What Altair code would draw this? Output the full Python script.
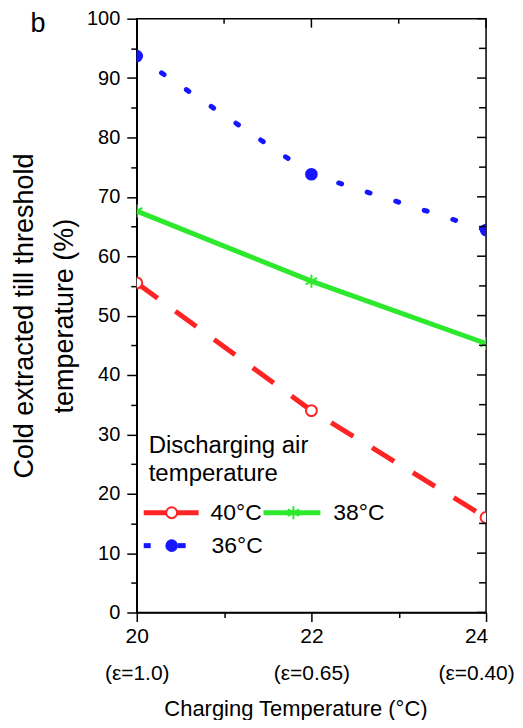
import altair as alt
import pandas as pd

# ---- data ----
charging_temp = [20, 22, 24]
eps_labels = ["(ε=1.0)", "(ε=0.65)", "(ε=0.40)"]
series_names = ["40°C", "38°C", "36°C"]
values_40 = [55.5, 34.0, 16.0]
values_38 = [67.6, 55.8, 45.3]
values_36 = [93.7, 73.8, 64.4]
x_major = [20, 22, 24]
x_minor = [21, 23]
y_major = list(range(0, 101, 10))
y_minor = list(range(5, 100, 10))

RED, GREEN, BLUE = "#ff2424", "#2ee82e", "#1515ff"
FONT = "Liberation Sans"
W, H = 350, 595
ASTER = "M0,-1L0,1M-0.87,-0.5L0.87,0.5M-0.87,0.5L0.87,-0.5"

rows = []
for name, vals in zip(series_names, [values_40, values_38, values_36]):
    for xv, yv in zip(charging_temp, vals):
        rows.append({"series": name, "x": xv, "y": yv})
df = pd.DataFrame(rows)

xscale = alt.Scale(domain=[20, 24], nice=False)
yscale = alt.Scale(domain=[0, 100], nice=False)

label_expr = " : ".join(
    f"datum.value == {v} ? ['{v}', '{e}']" for v, e in zip(charging_temp, eps_labels)
) + " : ''"

x_axis = alt.Axis(
    values=x_major + x_minor, labelExpr=label_expr, title="Charging Temperature (°C)",
    tickSize={"condition": {"test": "datum.value % 2 === 0", "value": 9}, "value": 5},
    labelOffset={"condition": {"test": "datum.value === 24", "value": -10}, "value": 0},
    labelFlush=False, labelOverlap=False, labelFontSize=21, labelLineHeight=37,
    labelPadding=4, titleFontSize=22, titlePadding=15, titleX=159, grid=False,
)
y_axis = alt.Axis(
    values=y_major + y_minor, labelExpr="datum.value % 10 === 0 ? datum.label : ''",
    tickSize={"condition": {"test": "datum.value % 10 === 0", "value": 10}, "value": 6},
    title=["Cold extracted till threshold", "temperature (%)"], titleFontSize=27,
    titleLineHeight=40, titlePadding=8, labelFontSize=20, labelPadding=7,
    labelOverlap=False, grid=False,
)

X = alt.X("x:Q", scale=xscale, axis=x_axis)
Y = alt.Y("y:Q", scale=yscale, axis=y_axis)
base = alt.Chart(df).encode(x=X, y=Y)

def sel(name):
    return base.transform_filter(alt.datum.series == name)

red_line = sel(series_names[0]).mark_line(color=RED, strokeWidth=5, strokeDash=[26, 22], clip=True)
green_line = sel(series_names[1]).mark_line(color=GREEN, strokeWidth=5, clip=True)
blue_line = sel(series_names[2]).mark_line(color=BLUE, strokeWidth=5, strokeDash=[3, 27],
                                           strokeCap="round", clip=True)

red_pts = sel(series_names[0]).mark_point(shape="circle", filled=True, fill="white", stroke=RED,
                                          strokeWidth=2, size=120, opacity=1, clip=True)
green_pts = sel(series_names[1]).mark_point(shape=ASTER, filled=False, stroke=GREEN,
                                            strokeWidth=2, size=170, opacity=1, clip=True)
blue_pts = sel(series_names[2]).mark_point(shape="circle", filled=True, color=BLUE,
                                           size=160, opacity=1, clip=True)

# inward ticks on top and right frame
top_major = alt.Chart(pd.DataFrame({"x": x_major})).mark_rule(color="black", strokeWidth=1.5).encode(
    x=X, y=alt.value(0), y2=alt.value(9))
top_minor = alt.Chart(pd.DataFrame({"x": x_minor})).mark_rule(color="black", strokeWidth=1.5).encode(
    x=X, y=alt.value(0), y2=alt.value(5))
right_major = alt.Chart(pd.DataFrame({"y": y_major})).mark_rule(color="black", strokeWidth=1.5).encode(
    y=Y, x=alt.value(W), x2=alt.value(W - 9))
right_minor = alt.Chart(pd.DataFrame({"y": y_minor})).mark_rule(color="black", strokeWidth=1.5).encode(
    y=Y, x=alt.value(W), x2=alt.value(W - 7))

one = pd.DataFrame({"t": [""]})

def text(t, x, y, size=23, align="left"):
    return alt.Chart(pd.DataFrame({"t": [t]})).mark_text(
        align=align, baseline="middle", font=FONT, fontSize=size, color="black"
    ).encode(x=alt.value(x), y=alt.value(y), text="t:N")

def seg(x1, x2, y, color, width):
    return alt.Chart(one).mark_rule(color=color, strokeWidth=width).encode(
        x=alt.value(x1), x2=alt.value(x2), y=alt.value(y))

def sym(x, y, **kw):
    return alt.Chart(one).mark_point(opacity=1, **kw).encode(x=alt.value(x), y=alt.value(y))

legend = [
    text("Discharging air", 12, 428, size=24),
    text("temperature", 12, 456, size=24),
    seg(7, 62, 495, RED, 5),
    sym(35, 495, shape="circle", filled=True, fill="white", stroke=RED, strokeWidth=2, size=120),
    text(series_names[0], 74, 495),
    seg(127, 184, 495, GREEN, 5),
    sym(157, 495, shape=ASTER, filled=False, stroke=GREEN, strokeWidth=2, size=170),
    text(series_names[1], 197, 495),
    seg(7, 14, 528, BLUE, 5),
    seg(41, 49, 528, BLUE, 5),
    sym(35, 528, shape="circle", filled=True, color=BLUE, size=160),
    text(series_names[2], 75, 528),
    text("b", -99, 5, size=27, align="center"),
]

chart = alt.layer(
    red_line, green_line, blue_line, red_pts, green_pts, blue_pts,
    top_major, top_minor, right_major, right_minor, *legend,
).properties(
    width=W, height=H, padding={"left": 2, "top": 0, "right": 0, "bottom": 0}
).configure_view(
    stroke="black", strokeWidth=1.5
).configure_axis(
    labelFont=FONT, titleFont=FONT, labelColor="black", titleColor="black",
    domainColor="black", tickColor="black", domainWidth=1.5, tickWidth=1.5,
    titleFontWeight="normal",
)

chart.save("out.html", embed_options={"renderer": "svg", "actions": False})
